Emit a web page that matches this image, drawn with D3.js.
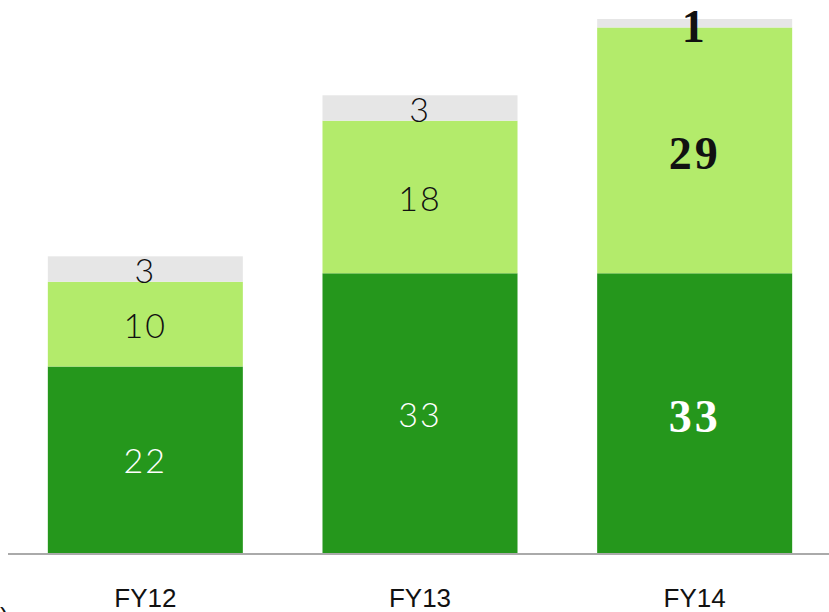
<!DOCTYPE html>
<html>
<head>
<meta charset="utf-8">
<script src="https://cdn.jsdelivr.net/npm/d3@7"></script>
<style>
  body { margin: 0; background: #fff; }
  svg { display: block; }
</style>
</head>
<body>
<svg width="829" height="612"></svg>
<script>
// ---- Dados
const years = ['FY12', 'FY13', 'FY14'];
const baseValues = [22, 33, 33];
const midValues = [10, 18, 29];
const topValues = [3, 3, 1];

const seriesKeys = ['base', 'mid', 'top'];
const colors = { base: '#25971c', mid: '#b3eb6b', top: '#e6e6e6' };
const labelColors = { base: '#ffffff', mid: '#111111', top: '#111111' };

const svg = d3.select('svg');
const baseline = 553;

const table = years.map((y, i) => ({ year: y, base: baseValues[i], mid: midValues[i], top: topValues[i] }));
const stacked = d3.stack().keys(seriesKeys)(table);

// ---- Escalas
const mapX = d3.scaleBand()
    .domain(years)
    .range([8, 832])
    .paddingInner(0.29)
    .paddingOuter(0.145);

const mapY = d3.scaleLinear()
    .domain([0, 63])
    .range([baseline, 19]);

// ---- Barras
const groups = svg.selectAll('.serie')
    .data(stacked)
    .join('g')
    .attr('class', 'serie')
    .attr('fill', d => colors[d.key]);

groups.selectAll('rect')
    .data(d => d)
    .join('rect')
    .attr('x', d => mapX(d.data.year))
    .attr('y', d => mapY(d[1]))
    .attr('width', mapX.bandwidth())
    .attr('height', d => mapY(d[0]) - mapY(d[1]));

// ---- Rótulos (FY14 em serif negrito)
const isSerif = d => d.data.year === 'FY14';

stacked.forEach(s => {
    svg.selectAll('.lbl-' + s.key)
        .data(s)
        .join('text')
        .attr('class', 'lbl-' + s.key)
        .attr('x', d => mapX(d.data.year) + mapX.bandwidth() / 2)
        .attr('y', d => (mapY(d[0]) + mapY(d[1])) / 2 + (isSerif(d) ? 3 : 0))
        .attr('text-anchor', 'middle')
        .attr('dominant-baseline', 'central')
        .attr('fill', labelColors[s.key])
        .style('font-family', d => isSerif(d) ? '"Liberation Serif", serif' : 'Lato, "DejaVu Sans", sans-serif')
        .style('font-weight', d => isSerif(d) ? 'bold' : '300')
        .style('font-size', d => isSerif(d) ? '46px' : '34px')
        .style('letter-spacing', d => isSerif(d) ? '3px' : '2px')
        .text(d => d.data[s.key]);
});

// ---- Eixo X
svg.append('line')
    .attr('x1', 8).attr('x2', 829)
    .attr('y1', baseline + 1).attr('y2', baseline + 1)
    .attr('stroke', '#aaaaaa')
    .attr('stroke-width', 2);

svg.selectAll('.xlabel')
    .data(years)
    .join('text')
    .attr('class', 'xlabel')
    .attr('x', d => mapX(d) + mapX.bandwidth() / 2)
    .attr('y', 607)
    .attr('text-anchor', 'middle')
    .attr('fill', '#111')
    .style('font-family', '"Liberation Sans", Arial, sans-serif')
    .style('font-size', '26px')
    .text(d => d);

// fragmento cortado no canto
svg.append('text')
    .attr('x', 0)
    .attr('y', 626)
    .attr('fill', '#111')
    .style('font-family', '"Liberation Sans", Arial, sans-serif')
    .style('font-size', '26px')
    .text(')');
</script>
</body>
</html>
